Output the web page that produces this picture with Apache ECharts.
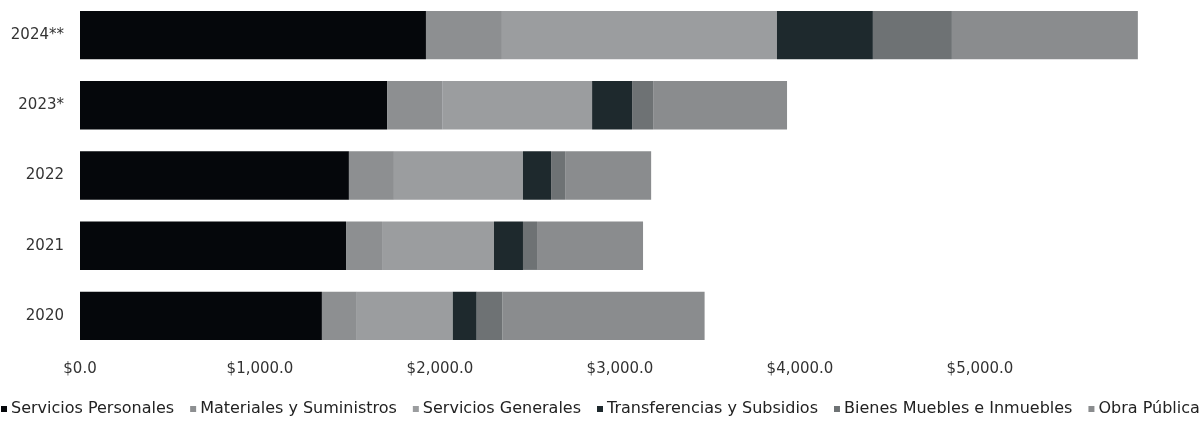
<!DOCTYPE html>
<html>
<head>
<meta charset="utf-8">
<script src="https://cdn.jsdelivr.net/npm/echarts@6/dist/echarts.min.js"></script>
<style>
html,body{margin:0;padding:0;background:#fff;}
#chart{width:1203px;height:426px;}
</style>
</head>
<body>
<div id="chart"></div>
<script>
const categories = ['2020', '2021', '2022', '2023*', '2024**'];
const seriesNames = ['Servicios Personales', 'Materiales y Suministros', 'Servicios Generales', 'Transferencias y Subsidios', 'Bienes Muebles e Inmuebles', 'Obra Pública'];
const serviciosPersonales = [1344, 1478, 1494, 1706, 1922];
const materialesSuministros = [194, 200, 250, 306, 422];
const serviciosGenerales = [533, 622, 717, 833, 1528];
const transferenciasSubsidios = [133, 161, 156, 222, 533];
const bienesMuebles = [144, 78, 78, 117, 439];
const obraPublica = [1122, 589, 478, 744, 1033];
const seriesColors = ['#05070b', '#8d8f91', '#9b9d9f', '#1e292d', '#6e7274', '#8a8c8e'];
const values = [serviciosPersonales, materialesSuministros, serviciosGenerales, transferenciasSubsidios, bienesMuebles, obraPublica];

const chart = echarts.init(document.getElementById('chart'));
chart.setOption({
  animation: false,
  backgroundColor: '#fff',
  textStyle: { fontFamily: 'DejaVu Sans, sans-serif' },
  grid: { left: 80, right: 43, top: 0, height: 351, containLabel: false },
  xAxis: {
    type: 'value', min: 0, max: 6000, interval: 1000,
    axisLine: { show: false }, axisTick: { show: false }, splitLine: { show: false },
    axisLabel: {
      showMaxLabel: false, margin: 11, color: '#333', fontSize: 15,
      formatter: v => '$' + v.toLocaleString('en-US', { minimumFractionDigits: 1, maximumFractionDigits: 1 })
    }
  },
  yAxis: {
    type: 'category', data: categories,
    axisLine: { show: false }, axisTick: { show: false },
    axisLabel: { margin: 16, color: '#333', fontSize: 15 }
  },
  legend: {
    bottom: 9, left: 1, padding: 0,
    itemWidth: 6, itemHeight: 6, itemGap: 16,
    icon: 'rect',
    textStyle: { fontSize: 16, color: '#222', padding: [0, 0, 0, -1] },
    data: seriesNames
  },
  series: seriesNames.map((name, i) => ({
    name, type: 'bar', stack: 'total',
    barCategoryGap: '31%',
    data: values[i],
    itemStyle: { color: seriesColors[i] }
  }))
});
</script>
</body>
</html>
